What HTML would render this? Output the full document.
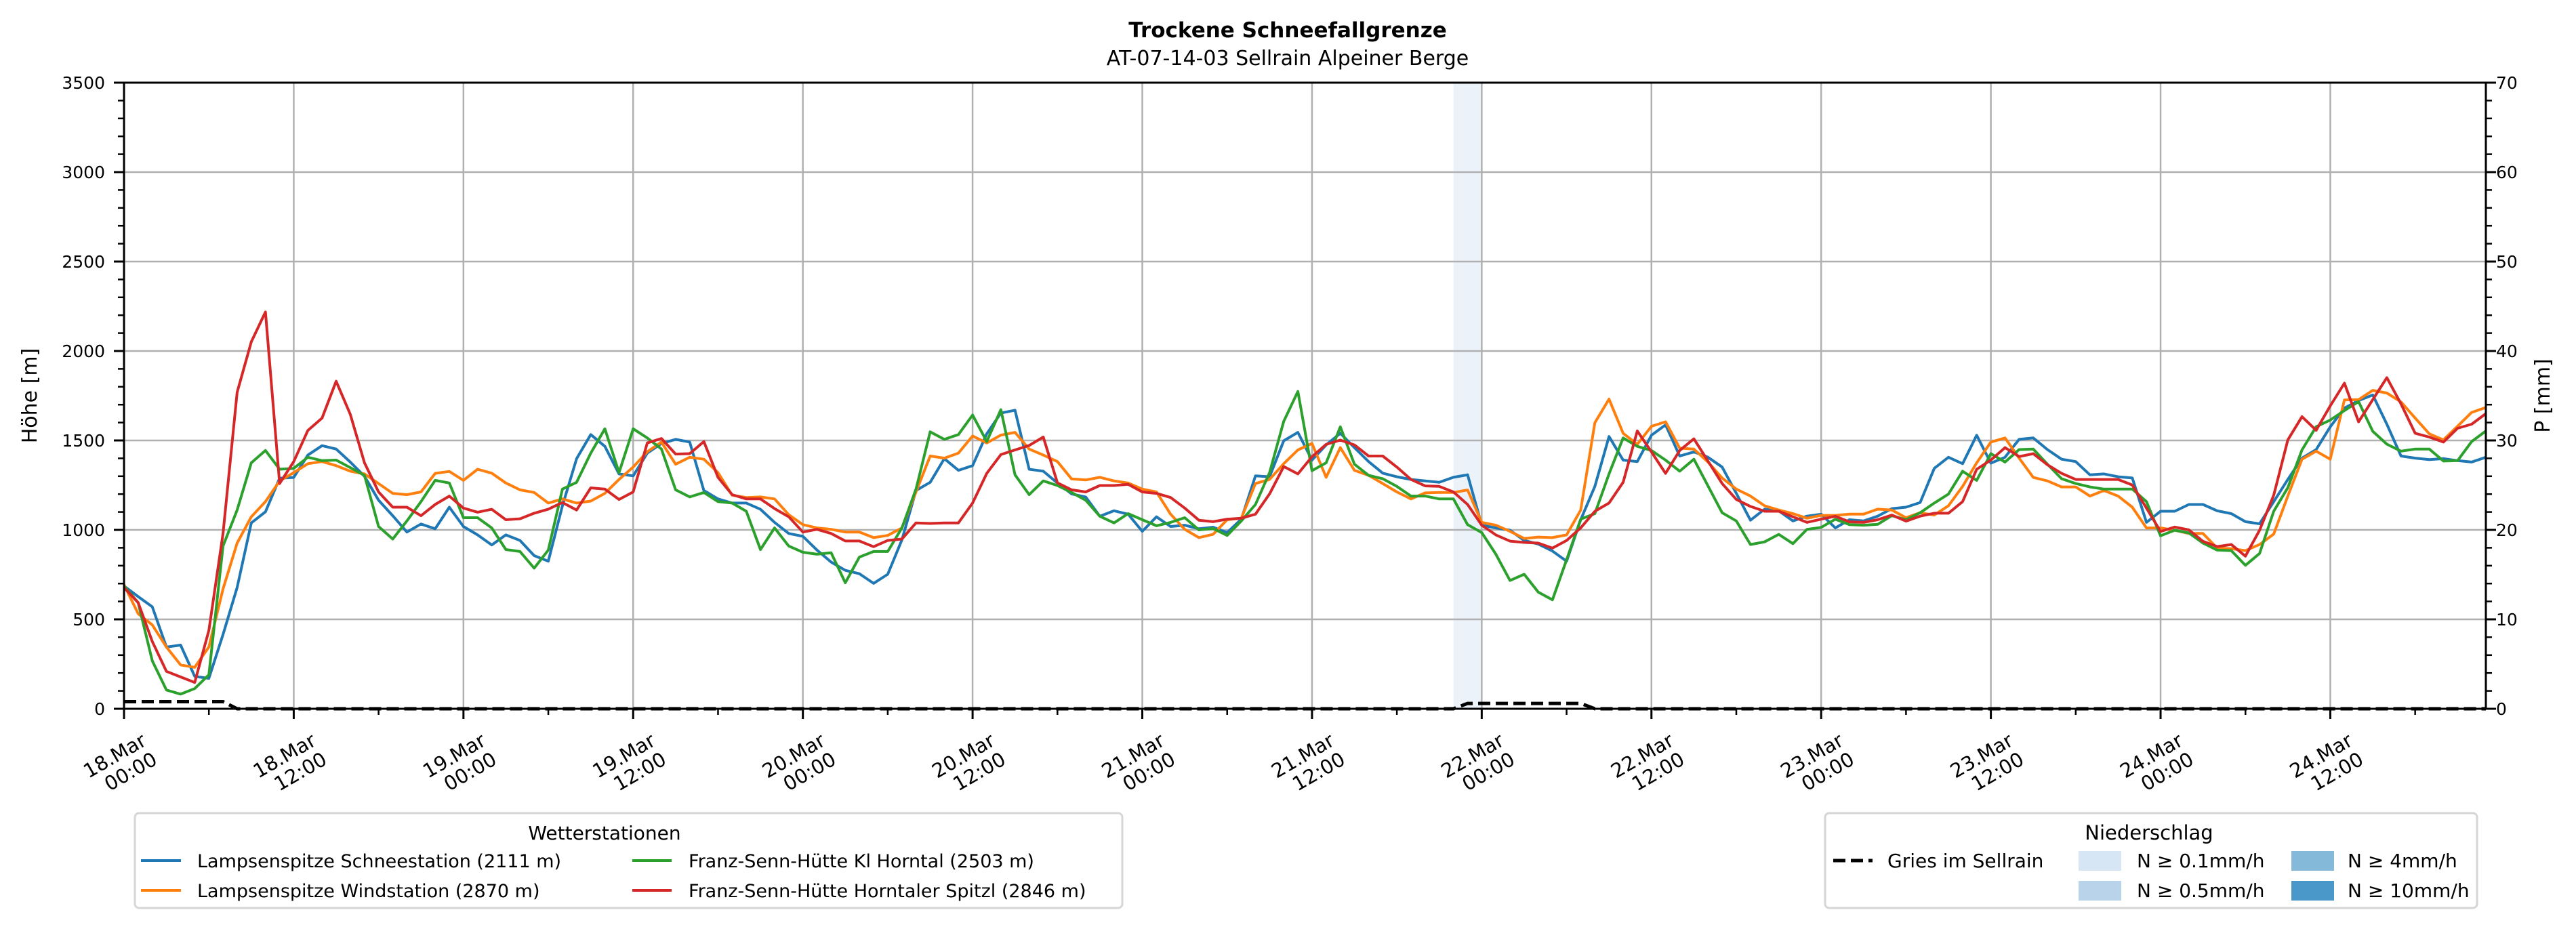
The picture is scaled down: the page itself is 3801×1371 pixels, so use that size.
<!DOCTYPE html>
<html><head><meta charset="utf-8"><style>
html,body{margin:0;padding:0;background:#fff;}
svg{display:block;font-family:"DejaVu Sans","Liberation Sans",sans-serif;}
</style></head><body>
<svg id="chart" width="3801" height="1371" viewBox="0 0 3801 1371" xmlns="http://www.w3.org/2000/svg">
<text x="1900" y="55" text-anchor="middle" font-size="31" font-weight="bold">Trockene Schneefallgrenze</text>
<text x="1900" y="96" text-anchor="middle" font-size="30">AT-07-14-03 Sellrain Alpeiner Berge</text>
<g id="plot"></g>
<text transform="translate(54,584) rotate(-90)" text-anchor="middle" font-size="30">Höhe [m]</text>
<text transform="translate(3762,584) rotate(-90)" text-anchor="middle" font-size="30">P [mm]</text>
<g>
<rect x="199" y="1200" width="1457" height="140" rx="6" fill="#fff" stroke="#d6d6d6" stroke-width="3"/>
<text x="892" y="1239" text-anchor="middle" font-size="28">Wetterstationen</text>
<g><line x1="208" y1="1270" x2="267" y2="1270" stroke="#1f77b4" stroke-width="4"/><text x="291" y="1280" font-size="27">Lampsenspitze Schneestation (2111 m)</text></g>
<g><line x1="208" y1="1314" x2="267" y2="1314" stroke="#ff7f0e" stroke-width="4"/><text x="291" y="1324" font-size="27">Lampsenspitze Windstation (2870 m)</text></g>
<g><line x1="933" y1="1270" x2="991" y2="1270" stroke="#2ca02c" stroke-width="4"/><text x="1016" y="1280" font-size="27">Franz-Senn-Hütte Kl Horntal (2503 m)</text></g>
<g><line x1="933" y1="1314" x2="991" y2="1314" stroke="#d62728" stroke-width="4"/><text x="1016" y="1324" font-size="27">Franz-Senn-Hütte Horntaler Spitzl (2846 m)</text></g>
</g>
<g>
<rect x="2693" y="1200" width="962" height="140" rx="6" fill="#fff" stroke="#d6d6d6" stroke-width="3"/>
<text x="3171" y="1239" text-anchor="middle" font-size="29">Niederschlag</text>
<g><line x1="2705" y1="1270" x2="2763" y2="1270" stroke="#000" stroke-width="5" stroke-dasharray="18,8"/><text x="2785" y="1280" font-size="28">Gries im Sellrain</text></g>
<g><rect x="3067" y="1256" width="63" height="29" fill="#d7e6f4"/><text x="3153" y="1280" font-size="28">N ≥ 0.1mm/h</text></g>
<g><rect x="3067" y="1300" width="63" height="29" fill="#b9d4ea"/><text x="3153" y="1324" font-size="28">N ≥ 0.5mm/h</text></g>
<g><rect x="3381" y="1256" width="63" height="29" fill="#84b9da"/><text x="3464" y="1280" font-size="28">N ≥ 4mm/h</text></g>
<g><rect x="3381" y="1300" width="63" height="29" fill="#4a98c9"/><text x="3464" y="1324" font-size="28">N ≥ 10mm/h</text></g>
</g>
</svg>
<script>
const xTickLabels = [["18.Mar","00:00"],["18.Mar","12:00"],["19.Mar","00:00"],["19.Mar","12:00"],["20.Mar","00:00"],["20.Mar","12:00"],["21.Mar","00:00"],["21.Mar","12:00"],["22.Mar","00:00"],["22.Mar","12:00"],["23.Mar","00:00"],["23.Mar","12:00"],["24.Mar","00:00"],["24.Mar","12:00"]];
const yTicks = [0,500,1000,1500,2000,2500,3000,3500];
const y2Ticks = [0,10,20,30,40,50,60,70];
const blueSeries = [686,627,570,345,356,181,170,415,678,1039,1101,1289,1293,1418,1471,1452,1379,1300,1166,1079,988,1033,1006,1127,1019,972,916,972,941,856,825,
1135,1398,1533,1467,1313,1302,1429,1483,1506,1491,1220,1173,1150,1150,1115,1042,980,964,887,820,774,755,701,752,944,1220,1266,1398,1333,1359,
1537,1653,1669,1339,1328,1262,1201,1184,1076,1107,1088,992,1073,1019,1026,1006,1015,985,1060,1302,1297,1498,1545,1390,1475,1540,1460,1382,1317,1297,
1282,1274,1266,1294,1308,1026,1011,998,941,921,882,825,1057,1243,1522,1390,1382,1529,1587,1413,1436,1406,1351,1204,1054,1116,1107,1050,1077,
1088,1011,1057,1050,1077,1119,1127,1153,1344,1406,1370,1529,1373,1406,1506,1514,1449,1395,1382,1308,1313,1297,1290,1042,1104,1104,1142,1142,1107,1091,
1046,1034,1158,1282,1401,1449,1576,1681,1723,1754,1591,1413,1401,1393,1398,1387,1379,1406];
const orangeSeries = [694,531,469,345,245,232,345,670,926,1073,1158,1274,1320,1370,1382,1359,1328,1313,1259,1204,1197,1212,1316,1327,1277,1339,1317,1262,1224,1209,1150,
1173,1150,1161,1204,1282,1351,1437,1491,1367,1406,1395,1320,1194,1181,1184,1173,1085,1029,1011,1003,988,988,957,969,1011,1212,1413,1401,1429,1525,
1486,1530,1545,1452,1418,1382,1285,1279,1294,1274,1262,1228,1212,1088,1003,957,975,1057,1065,1259,1282,1370,1447,1483,1294,1460,1333,1305,1259,1212,
1173,1207,1209,1209,1223,1042,1026,992,952,960,957,972,1111,1599,1731,1540,1478,1579,1604,1457,1452,1379,1290,1228,1189,1135,1111,1091,1065,
1081,1081,1088,1088,1116,1111,1068,1096,1083,1135,1243,1375,1491,1514,1401,1293,1274,1240,1240,1189,1220,1189,1127,1011,1011,998,980,980,898,895,
884,918,977,1189,1395,1440,1395,1726,1728,1780,1765,1715,1625,1537,1503,1580,1657,1684];
const greenSeries = [686,593,268,105,82,113,190,910,1111,1375,1444,1339,1344,1406,1387,1390,1348,1305,1019,949,1050,1158,1277,1262,1068,1068,1011,890,879,786,887,
1228,1266,1429,1565,1320,1565,1514,1452,1224,1184,1209,1158,1150,1104,890,1011,910,875,864,872,704,848,879,879,1011,1228,1548,1506,1533,1642,
1494,1672,1308,1197,1274,1248,1209,1166,1076,1039,1091,1057,1023,1042,1068,1000,1008,969,1050,1142,1320,1607,1774,1331,1375,1576,1367,1305,1286,1243,
1189,1189,1173,1173,1029,985,864,717,752,652,609,833,1060,1091,1313,1514,1467,1444,1390,1328,1395,1246,1096,1050,918,933,975,923,1003,
1014,1060,1029,1026,1031,1080,1057,1096,1150,1200,1328,1277,1426,1379,1449,1452,1367,1286,1259,1240,1228,1228,1228,1158,967,998,983,926,887,884,
802,868,1104,1236,1447,1577,1614,1667,1717,1551,1479,1440,1452,1452,1385,1387,1494,1553];
const redSeries = [678,593,376,209,178,147,438,980,1769,2051,2218,1259,1382,1556,1625,1831,1646,1375,1212,1127,1127,1079,1142,1189,1122,1099,1115,1057,1062,1093,1116,
1153,1111,1235,1228,1170,1212,1486,1511,1424,1426,1494,1293,1197,1173,1173,1119,1073,988,1003,980,938,938,906,941,949,1039,1036,1039,1039,1150,
1316,1421,1447,1472,1519,1263,1224,1212,1248,1248,1255,1212,1204,1181,1122,1054,1046,1060,1065,1088,1201,1354,1313,1409,1478,1502,1475,1413,1413,1351,
1282,1246,1243,1212,1142,1026,972,937,930,926,898,941,1011,1104,1150,1266,1553,1436,1316,1444,1509,1385,1259,1170,1131,1104,1104,1073,1042,
1060,1076,1045,1042,1057,1083,1049,1077,1093,1093,1158,1339,1390,1460,1410,1426,1364,1316,1282,1282,1282,1282,1251,1122,991,1016,1000,936,907,918,
853,998,1194,1503,1633,1557,1693,1820,1604,1728,1851,1704,1540,1519,1491,1568,1591,1650];
const griesHours = [0,7,8,94,95,103,104,167];
const griesValues = [0.8,0.8,0,0,0.6,0.6,0,0];
const precipSpanHours = [94,96];

const NS='http://www.w3.org/2000/svg';
const L=183,R=3668,T=122,B=1046,HMAX=167,YMAX=3500,PMAX=70;
const xs=h=>L+(R-L)*h/HMAX;
const ys=v=>B-(B-T)*v/YMAX;
const ys2=p=>B-(B-T)*p/PMAX;
const plot=document.getElementById('plot');
function mk(tag,attrs,parent){const e=document.createElementNS(NS,tag);for(const k in attrs)e.setAttribute(k,attrs[k]);(parent||plot).appendChild(e);return e;}

const span=mk('rect',{x:xs(precipSpanHours[0]),y:T,width:xs(precipSpanHours[1])-xs(precipSpanHours[0]),height:B-T,fill:'#dde8f6','fill-opacity':'0.55'});



xTickLabels.forEach((lab,i)=>{
  const x=xs(i*12);
  const g=mk('line',{x1:x,y1:T,x2:x,y2:B,stroke:'#b0b0b0','stroke-width':2.5});
  
  
});
yTicks.forEach(v=>{
  const y=ys(v);
  const g=mk('line',{x1:L,y1:y,x2:R,y2:y,stroke:'#b0b0b0','stroke-width':2.5});
  
  
});

const griesPts=griesHours.map((h,i)=>xs(h)+','+ys2(griesValues[i])).join(' ');
const gries=mk('polyline',{points:griesPts,fill:'none',stroke:'#000','stroke-width':5,'stroke-dasharray':'18,8'});



[[blueSeries,'#1f77b4','line-lampsenspitze-schnee'],[orangeSeries,'#ff7f0e','line-lampsenspitze-wind'],[greenSeries,'#2ca02c','line-franz-senn-kl-horntal'],[redSeries,'#d62728','line-franz-senn-horntaler-spitzl']].forEach(([d,c,n])=>{
  const pts=d.map((v,h)=>xs(h).toFixed(1)+','+ys(v).toFixed(1)).join(' ');
  const pl=mk('polyline',{points:pts,fill:'none',stroke:c,'stroke-width':4,'stroke-linejoin':'round'});
  
  
});

const frame=mk('rect',{x:L,y:T,width:R-L,height:B-T,fill:'none',stroke:'#000','stroke-width':3});



for(let h=0;h<=HMAX;h+=6){
  const x=xs(h),major=h%12===0;
  const t=mk('line',{x1:x,y1:B,x2:x,y2:B+(major?15:9),stroke:'#000','stroke-width':major?3:2.5});
  
  
}
xTickLabels.forEach((lab,i)=>{
  const x=xs(i*12);
  const g=mk('g',{transform:'translate('+(x+30)+',1090) rotate(-30)'});
  
  
  mk('text',{x:0,y:10,'text-anchor':'end','font-size':29},g).textContent=lab[0];
  mk('text',{x:0,y:42,'text-anchor':'end','font-size':29},g).textContent=lab[1];
});
for(let v=0;v<=YMAX;v+=100){
  const y=ys(v),major=v%500===0;
  const t=mk('line',{x1:L-(major?15:9),y1:y,x2:L,y2:y,stroke:'#000','stroke-width':major?3:2.5});
  
  
  const t2=mk('line',{x1:R,y1:y,x2:R+(major?15:9),y2:y,stroke:'#000','stroke-width':major?3:2.5});
  
  
}
yTicks.forEach(v=>{
  const t=mk('text',{x:155,y:ys(v)+9,'text-anchor':'end','font-size':25});
  
  
  t.textContent=v;
});
y2Ticks.forEach(p=>{
  const t=mk('text',{x:3683,y:ys2(p)+9,'text-anchor':'start','font-size':25});
  
  
  t.textContent=p;
});
</script>
</body></html>
